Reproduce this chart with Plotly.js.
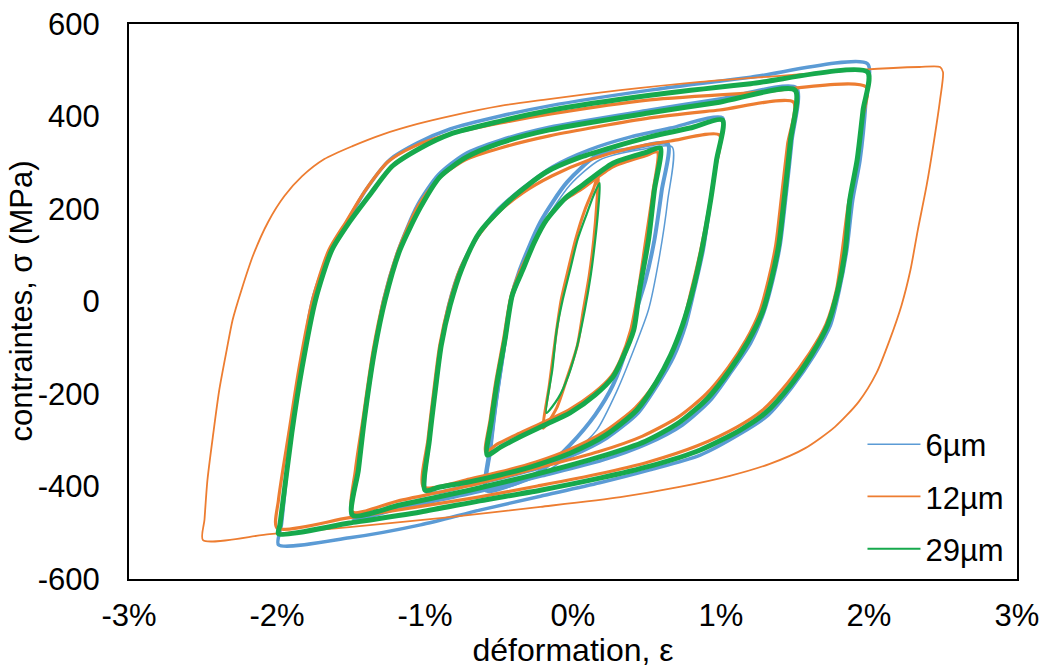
<!DOCTYPE html>
<html>
<head>
<meta charset="utf-8">
<script src="https://cdn.plot.ly/plotly-3.0.1.min.js"></script>
<style>html,body{margin:0;padding:0;background:#fff;}#chart{width:1045px;height:668px;}</style>
</head>
<body>
<div id="chart"></div>
<script>
// ---- series / axis labels ----
const seriesNames = ['6µm', '12µm', '29µm'];
const xTitle = 'déformation, ε';
const yTitle = 'contraintes, σ (MPa)';
const strainTickVals = [-3, -2, -1, 0, 1, 2, 3];
const strainTickText = ['-3%', '-2%', '-1%', '0%', '1%', '2%', '3%'];
const stressTickVals = [-600, -400, -200, 0, 200, 400, 600];
const stressTickText = ['-600', '-400', '-200', '0', '200', '400', '600'];

// ---- 6µm (blue) loops: strain (%) / stress (MPa) ----
const B20_eps = [-1.99,-1.97,-1.91,-1.84,-1.76,-1.64,-1.52,-1.40,-1.24,-1.05,-0.83,-0.49,-0.16,0.52,1.20,1.99,
                 1.98,1.94,1.89,1.85,1.80,1.74,1.63,1.48,1.31,1.13,0.86,0.52,0.18,-0.22,-0.63,-1.03,-1.51,-1.99];
const B20_sig = [-526,-483,-299,-148,3,111,176,241,306,343,373,401,423,457,485,514,
                 436,306,219,111,25,-51,-116,-185,-248,-286,-332,-364,-392,-421,-451,-483,-511,-526];
const B15_eps = [-1.49,-1.45,-1.41,-1.34,-1.28,-1.18,-1.05,-0.91,-0.73,-0.49,-0.16,0.52,0.99,1.51,
                 1.48,1.44,1.40,1.35,1.29,1.20,1.07,0.93,0.74,0.50,0.20,-0.21,-0.68,-1.16,-1.49];
const B15_sig = [-468,-364,-256,-105,3,111,209,274,319,349,377,414,438,462,
                 349,230,122,46,-23,-90,-152,-213,-267,-308,-343,-377,-414,-446,-468];
const B10_eps = [-0.99,-0.97,-0.93,-0.89,-0.84,-0.76,-0.64,-0.51,-0.34,-0.14,0.11,0.39,0.66,1.01,
                 0.97,0.93,0.88,0.82,0.76,0.68,0.57,0.44,0.23,-0.01,-0.23,-0.49,-0.70,-0.99];
const B10_sig = [-412,-299,-191,-94,-8,72,144,198,245,291,328,356,375,397,
                 306,219,111,25,-53,-120,-181,-241,-295,-334,-360,-382,-397,-412];
const B06_eps = [-0.59,-0.56,-0.52,-0.49,-0.46,-0.42,-0.36,-0.22,-0.04,0.16,0.39,0.64,
                 0.60,0.55,0.49,0.43,0.37,0.27,0.15,-0.02,-0.19,-0.36,-0.49,-0.59];
const B06_sig = [-408,-315,-213,-148,-83,3,68,172,258,315,330,341,
                 241,133,46,-18,-94,-181,-245,-310,-360,-390,-403,-408];
const B06b_eps = [-0.58,-0.55,-0.51,-0.46,-0.41,-0.32,-0.19,-0.02,0.18,0.45,0.67,
                  0.64,0.58,0.51,0.41,0.30,0.16,-0.02,-0.22,-0.43,-0.58];
const B06b_sig = [-412,-321,-213,-105,3,79,172,252,306,328,334,
                  219,90,-18,-105,-191,-278,-332,-375,-401,-412];

// ---- 12µm (orange) loops ----
const O25_eps = [-2.50,-2.49,-2.47,-2.43,-2.39,-2.34,-2.30,-2.24,-2.16,-2.06,-1.95,-1.83,-1.68,-1.49,-1.28,-1.05,-0.83,-0.49,-0.20,0.32,0.86,1.40,1.94,2.34,2.48,
                 2.50,2.48,2.44,2.39,2.33,2.28,2.22,2.14,2.05,1.93,1.77,1.57,1.33,1.06,0.72,0.32,-0.22,-0.83,-1.51,-2.05,-2.50];
const O25_sig = [-516,-472,-386,-284,-191,-105,-40,25,101,172,228,271,308,336,362,384,401,423,436,457,475,488,501,507,507,
                 496,436,349,252,155,68,-8,-83,-155,-217,-271,-317,-351,-377,-401,-423,-444,-466,-488,-503,-516];
const O20_eps = [-2.00,-1.99,-1.92,-1.85,-1.76,-1.65,-1.53,-1.41,-1.25,-1.07,-0.83,-0.49,-0.16,0.52,1.20,1.98,
                 1.95,1.91,1.86,1.82,1.78,1.71,1.60,1.45,1.28,1.11,0.84,0.51,0.17,-0.24,-0.64,-1.05,-1.52,-2.00];
const O20_sig = [-490,-429,-284,-142,3,111,174,237,302,336,362,386,405,436,451,464,
                 388,284,209,111,25,-49,-111,-176,-235,-271,-312,-347,-373,-399,-423,-444,-468,-490];
const O15_eps = [-1.49,-1.47,-1.42,-1.35,-1.28,-1.18,-1.05,-0.91,-0.73,-0.49,-0.16,0.52,0.99,1.49,
                 1.45,1.41,1.37,1.32,1.26,1.17,1.05,0.90,0.71,0.47,0.17,-0.24,-0.71,-1.18,-1.49];
const O15_sig = [-455,-364,-256,-105,3,111,204,265,306,332,358,397,414,431,
                 340,230,122,46,-23,-83,-142,-200,-250,-291,-325,-360,-399,-431,-455];
const O10_eps = [-1.01,-0.98,-0.94,-0.90,-0.84,-0.76,-0.64,-0.51,-0.34,-0.14,0.11,0.39,0.66,0.99,
                 0.96,0.92,0.86,0.80,0.74,0.66,0.56,0.42,0.21,-0.03,-0.25,-0.50,-0.70,-1.01];
const O10_sig = [-401,-299,-191,-94,-8,72,142,191,235,272,306,332,347,360,
                 284,205,107,25,-51,-116,-174,-230,-282,-321,-347,-369,-384,-401];
const O06_eps = [-0.59,-0.56,-0.52,-0.47,-0.42,-0.36,-0.27,-0.19,-0.07,0.05,0.27,0.49,0.57,
                 0.54,0.49,0.44,0.39,0.32,0.26,0.14,-0.03,-0.20,-0.37,-0.51,-0.59];
const O06_sig = [-325,-256,-170,-83,10,64,122,170,217,241,291,315,323,
                 237,129,21,-62,-126,-161,-198,-235,-261,-286,-308,-325];
const O02_eps = [-0.20,-0.16,-0.12,-0.08,-0.03,0.02,0.08,0.14,0.17,
                 0.16,0.14,0.11,0.07,0.03,-0.04,-0.11,-0.20];
const O02_sig = [-274,-181,-83,3,72,137,198,245,274,
                 209,133,57,-18,-94,-165,-230,-274];

// ---- 29µm (green) loops ----
const G20_eps = [-1.99,-1.98,-1.90,-1.83,-1.74,-1.63,-1.51,-1.37,-1.22,-1.03,-0.83,-0.49,-0.16,0.52,1.20,1.99,
                 1.96,1.92,1.87,1.84,1.79,1.72,1.61,1.47,1.30,1.13,0.86,0.52,0.18,-0.22,-0.63,-1.03,-1.51,-1.99];
const G20_sig = [-502,-483,-284,-142,3,111,172,232,293,332,362,390,413,446,471,496,
                 414,306,219,111,25,-51,-116,-181,-241,-278,-321,-356,-382,-408,-431,-455,-479,-502];
const G15_eps = [-1.49,-1.45,-1.41,-1.34,-1.27,-1.17,-1.03,-0.90,-0.72,-0.49,-0.16,0.52,0.99,1.50,
                 1.47,1.43,1.39,1.34,1.28,1.18,1.06,0.91,0.72,0.49,0.18,-0.22,-0.70,-1.17,-1.49];
const G15_sig = [-462,-364,-256,-105,3,111,204,269,312,343,371,408,431,457,
                 349,230,122,46,-23,-88,-148,-209,-261,-302,-336,-371,-408,-440,-462];
const G10_eps = [-1.00,-0.97,-0.93,-0.89,-0.83,-0.75,-0.63,-0.41,-0.18,0.05,0.27,0.52,0.79,1.01,
                 0.97,0.93,0.87,0.81,0.74,0.66,0.56,0.43,0.22,-0.02,-0.24,-0.49,-0.70,-0.90,-1.00];
const G10_sig = [-408,-299,-191,-94,-8,72,150,224,280,312,334,356,375,392,
                 306,219,111,25,-51,-116,-176,-235,-289,-328,-353,-375,-390,-401,-408];
const G06_eps = [-0.58,-0.55,-0.51,-0.46,-0.41,-0.34,-0.26,-0.18,-0.05,0.05,0.27,0.50,0.59,
                 0.55,0.51,0.45,0.41,0.33,0.27,0.15,-0.02,-0.19,-0.36,-0.49,-0.58];
const G06_sig = [-332,-256,-170,-83,14,68,129,176,224,248,299,323,332,
                 241,133,25,-62,-126,-163,-202,-241,-267,-293,-315,-332];
const G02_eps = [-0.18,-0.14,-0.11,-0.07,-0.02,0.03,0.09,0.14,0.18,
                 0.17,0.15,0.12,0.08,0.03,-0.03,-0.10,-0.18];
const G02_sig = [-241,-148,-62,3,68,133,187,230,256,
                 198,133,57,-18,-94,-159,-209,-241];

const BLUE = '#5B9BD5', ORANGE = '#ED7D31', GREEN = '#16A94C';

function loop(x, y, color, width, group, name, legend) {
  return {
    type: 'scatter', mode: 'lines', x: x, y: y,
    line: {color: color, width: width, shape: 'spline', smoothing: 0.7},
    legendgroup: group, name: name, showlegend: !!legend, hoverinfo: 'skip'
  };
}

const traces = [
  loop(B20_eps, B20_sig, BLUE, 3.5, 'b', seriesNames[0]),
  loop(B15_eps, B15_sig, BLUE, 3.5, 'b', seriesNames[0]),
  loop(B10_eps, B10_sig, BLUE, 3.5, 'b', seriesNames[0]),
  loop(B06_eps, B06_sig, BLUE, 4, 'b', seriesNames[0]),
  loop(B06b_eps, B06b_sig, BLUE, 1.5, 'b', seriesNames[0], true),
  loop(O25_eps, O25_sig, ORANGE, 1.8, 'o', seriesNames[1], true),
  loop(O20_eps, O20_sig, ORANGE, 3.2, 'o', seriesNames[1]),
  loop(O15_eps, O15_sig, ORANGE, 3.2, 'o', seriesNames[1]),
  loop(O10_eps, O10_sig, ORANGE, 3.2, 'o', seriesNames[1]),
  loop(O06_eps, O06_sig, ORANGE, 3.2, 'o', seriesNames[1]),
  loop(O02_eps, O02_sig, ORANGE, 3, 'o', seriesNames[1]),
  loop(G20_eps, G20_sig, GREEN, 5, 'g', seriesNames[2]),
  loop(G15_eps, G15_sig, GREEN, 5, 'g', seriesNames[2]),
  loop(G10_eps, G10_sig, GREEN, 5, 'g', seriesNames[2]),
  loop(G06_eps, G06_sig, GREEN, 5, 'g', seriesNames[2]),
  loop(G02_eps, G02_sig, GREEN, 2.2, 'g', seriesNames[2], true)
];

const FONT = 'Liberation Sans, Arial, sans-serif';
const layout = {
  width: 1045, height: 668,
  margin: {l: 129, r: 28, t: 24, b: 89},
  paper_bgcolor: '#fff', plot_bgcolor: '#fff',
  font: {family: FONT, size: 31, color: '#000'},
  showlegend: true,
  legend: {
    x: 0.826, y: 0.291, xanchor: 'left', yanchor: 'top',
    bgcolor: 'rgba(0,0,0,0)', font: {family: FONT, size: 31, color: '#000'},
    traceorder: 'grouped', tracegroupgap: 9, itemwidth: 53
  },
  xaxis: {
    range: [-3, 3], tickvals: strainTickVals, ticktext: strainTickText,
    showgrid: false, zeroline: false, showline: true, mirror: true,
    linecolor: '#000', linewidth: 2, ticks: '', ticklabelstandoff: 8,
    tickfont: {family: FONT, size: 31, color: '#000'},
    title: {text: xTitle, font: {family: FONT, size: 32, color: '#000'}, standoff: 16}
  },
  yaxis: {
    range: [-600, 600], tickvals: stressTickVals, ticktext: stressTickText,
    showgrid: false, zeroline: false, showline: true, mirror: true,
    linecolor: '#000', linewidth: 2, ticks: '', ticklabelstandoff: 21,
    tickfont: {family: FONT, size: 31, color: '#000'}
  },
  annotations: [{
    text: yTitle, xref: 'paper', yref: 'paper',
    x: (21 - 129) / 888, y: 0.5, xanchor: 'center', yanchor: 'middle',
    textangle: -90, showarrow: false,
    font: {family: FONT, size: 31, color: '#000'}
  }]
};

Plotly.newPlot('chart', traces, layout, {displayModeBar: false, responsive: false, staticPlot: true});
</script>
</body>
</html>
